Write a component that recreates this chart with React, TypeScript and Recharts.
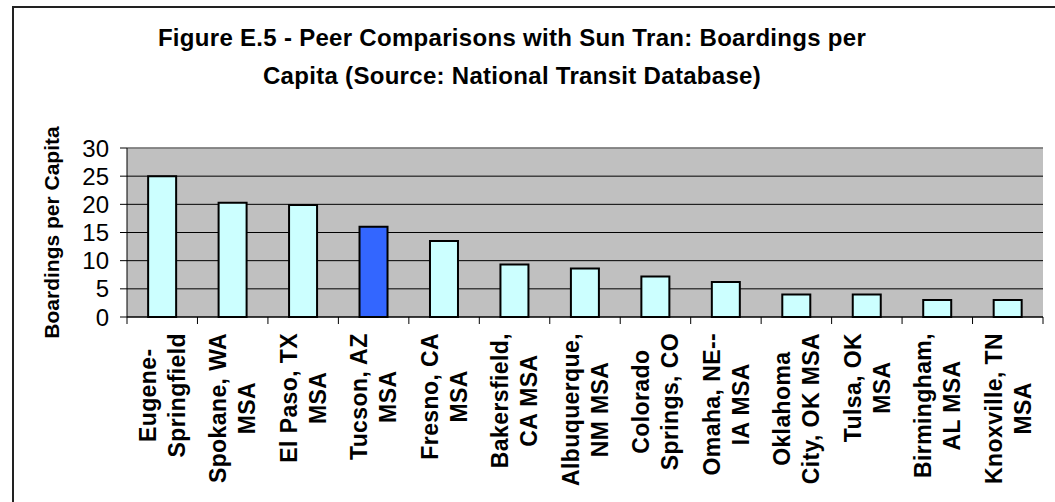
import React from 'react';
import {
  Bar,
  BarChart,
  CartesianGrid,
  Cell,
  ReferenceLine,
  XAxis,
  YAxis,
} from 'recharts';

const categories = [
  'Eugene-\nSpringfield',
  'Spokane, WA\nMSA',
  'El Paso, TX\nMSA',
  'Tucson, AZ\nMSA',
  'Fresno, CA\nMSA',
  'Bakersfield,\nCA MSA',
  'Albuquerque,\nNM MSA',
  'Colorado\nSprings, CO',
  'Omaha, NE--\nIA MSA',
  'Oklahoma\nCity, OK MSA',
  'Tulsa, OK\nMSA',
  'Birmingham,\nAL MSA',
  'Knoxville, TN\nMSA',
];
const boardings = [25, 20.3, 19.9, 16, 13.5, 9.3, 8.6, 7.2, 6.2, 4, 4, 3, 3];
const yTicks = [0, 5, 10, 15, 20, 25, 30];
const highlighted = 'Tucson, AZ\nMSA';

const data = categories.map((name, i) => ({ name, value: boardings[i] }));

const W = 1055;
const H = 502;
const PLOT_TOP = 148;
const PLOT_BOTTOM = 317;
const PLOT_LEFT = 127;
const PLOT_RIGHT = 1043;
const BAND = (PLOT_RIGHT - PLOT_LEFT) / categories.length;
const FONT = 'Arial, "Liberation Sans", Helvetica, sans-serif';
const X_FONT_SIZE = 23;
const X_SPACING = 0.4;
const LINE_GAP = 29;

let measureCtx: CanvasRenderingContext2D | null = null;
function textWidth(s: string) {
  if (!measureCtx) measureCtx = document.createElement('canvas').getContext('2d');
  if (!measureCtx) return s.length * X_FONT_SIZE * 0.6;
  measureCtx.font = `bold ${X_FONT_SIZE}px ${FONT}`;
  return measureCtx.measureText(s).width + s.length * X_SPACING;
}

function XTick(props: any) {
  const { x, payload, index } = props;
  const lines = String(payload.value).split('\n');
  const maxW = Math.max(...lines.map(textWidth));
  const top = PLOT_BOTTOM + 16;
  return (
    <g>
      <line x1={x - BAND / 2} x2={x - BAND / 2} y1={PLOT_BOTTOM} y2={PLOT_BOTTOM + 7} stroke="#000" />
      {index === categories.length - 1 && (
        <line x1={x + BAND / 2} x2={x + BAND / 2} y1={PLOT_BOTTOM} y2={PLOT_BOTTOM + 7} stroke="#000" />
      )}
      <g transform={`translate(${x},${top}) rotate(-90)`}>
        {lines.map((ln, i) => (
          <text
            key={i}
            x={-maxW / 2}
            y={(i - (lines.length - 1) / 2) * LINE_GAP}
            dy="0.36em"
            textAnchor="middle"
            fontFamily={FONT}
            fontWeight="bold"
            fontSize={X_FONT_SIZE}
            letterSpacing={X_SPACING}
            fill="#000"
          >
            {ln}
          </text>
        ))}
      </g>
    </g>
  );
}

function YLabel() {
  const cy = (PLOT_TOP + PLOT_BOTTOM) / 2;
  const cx = 51;
  return (
    <text
      x={cx}
      y={cy}
      transform={`rotate(-90, ${cx}, ${cy})`}
      textAnchor="middle"
      dy="0.36em"
      fontFamily={FONT}
      fontWeight="bold"
      fontSize={21}
      fill="#000"
    >
      Boardings per Capita
    </text>
  );
}

export default function App() {
  return (
    <div
      style={{
        position: 'absolute',
        left: 0,
        top: 0,
        width: W,
        height: H,
        overflow: 'hidden',
        background: '#fff',
        fontFamily: FONT,
      }}
    >
      <div
        style={{
          position: 'absolute',
          left: 12,
          top: 6,
          width: W + 50,
          height: H + 50,
          borderLeft: '2px solid #222',
          borderTop: '2px solid #222',
        }}
      />
      <div
        style={{
          position: 'absolute',
          left: 12,
          top: 19,
          width: 1000,
          textAlign: 'center',
          fontWeight: 'bold',
          fontSize: 24,
          letterSpacing: 0.3,
          lineHeight: '38px',
          color: '#000',
        }}
      >
        Figure E.5 - Peer Comparisons with Sun Tran: Boardings per
        <br />
        Capita (Source: National Transit Database)
      </div>
      <div style={{ position: 'absolute', left: 0, top: 0 }}>
        <BarChart
          width={W}
          height={H}
          data={data}
          margin={{ top: PLOT_TOP, right: W - PLOT_RIGHT, bottom: 0, left: 57 }}
          barCategoryGap="30%"
        >
          <CartesianGrid fill="#c0c0c0" stroke="#000" vertical={false} horizontalValues={yTicks} />
          <ReferenceLine y={30} stroke="#909090" strokeWidth={1.5} />
          <XAxis
            dataKey="name"
            interval={0}
            tickLine={false}
            axisLine={{ stroke: '#000' }}
            height={H - PLOT_BOTTOM}
            tick={<XTick />}
          />
          <YAxis
            domain={[0, 30]}
            ticks={yTicks}
            interval={0}
            width={PLOT_LEFT - 57}
            tickSize={7}
            tickMargin={11}
            tickLine={{ stroke: '#000' }}
            axisLine={{ stroke: '#000' }}
            tick={{ fill: '#000', fontSize: 24, fontFamily: FONT }}
            label={<YLabel />}
          />
          <YAxis
            yAxisId="edge"
            orientation="right"
            width={0}
            domain={[0, 30]}
            tick={false}
            tickLine={false}
            axisLine={{ stroke: '#808080', strokeWidth: 2 }}
          />
          <Bar dataKey="value" stroke="#000" strokeWidth={2} isAnimationActive={false}>
            {data.map((d) => (
              <Cell key={d.name} fill={d.name === highlighted ? '#3366ff' : '#ccffff'} />
            ))}
          </Bar>
        </BarChart>
      </div>
    </div>
  );
}
